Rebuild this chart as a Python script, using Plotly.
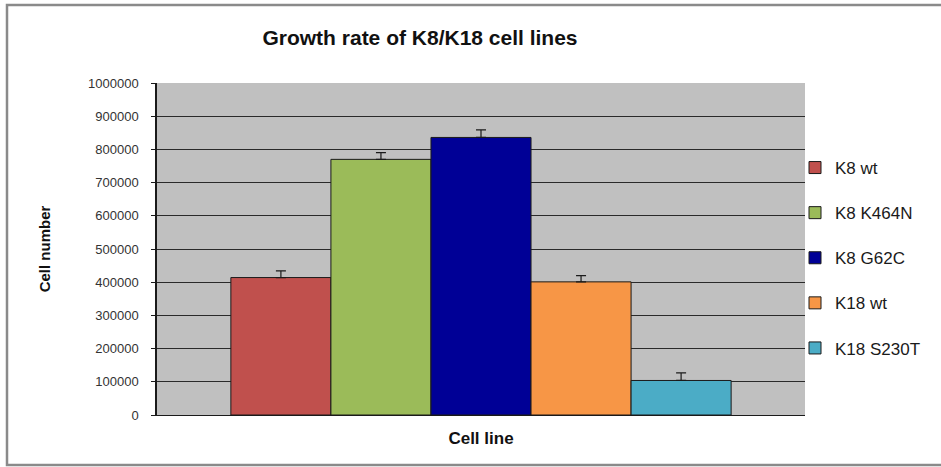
import plotly.graph_objects as go

categories = ["K8 wt", "K8 K464N", "K8 G62C", "K18 wt", "K18 S230T"]
values = [414000, 770000, 836000, 401000, 104000]
errors = [20000, 20000, 23000, 19000, 23000]
colors = ["#C0504D", "#9BBB59", "#000096", "#F79646", "#4BACC6"]
y_ticks = [0, 100000, 200000, 300000, 400000, 500000, 600000, 700000, 800000, 900000, 1000000]

W, H = 941, 467
L, R, T, B = 157, 805, 83, 415

def px(x):
    return (x - L) / (R - L)

def py(y):
    return (B - y) / (B - T)

fig = go.Figure()
for i, (name, v, e, c) in enumerate(zip(categories, values, errors, colors)):
    fig.add_trace(go.Bar(
        x=[0], y=[v], name=name, legendgroup=name,
        marker=dict(color=c, line=dict(color="#1a1a1a", width=1)),
        error_y=dict(type="data", symmetric=False, array=[e], arrayminus=[0],
                     color="#1a1a1a", thickness=1.2, width=5),
    ))

fig.update_layout(
    width=W, height=H,
    margin=dict(l=L, r=W - R, t=T, b=H - B),
    paper_bgcolor="white",
    plot_bgcolor="#C0C0C0",
    barmode="group",
    bargap=0.228,
    bargroupgap=0,
    font=dict(family="Liberation Sans, Arial", color="#1a1a1a"),
    title=dict(text="<b>Growth rate of K8/K18 cell lines</b>", x=420 / W, xanchor="center",
               y=1 - 38 / H, yanchor="middle", font=dict(size=21, color="#111")),
    xaxis=dict(range=[-0.5, 0.5], showticklabels=False, ticks="", showgrid=False,
               zeroline=False, showline=True, linecolor="#1a1a1a", linewidth=1,
               title=dict(text="<b>Cell line</b>", font=dict(size=17, color="#111"), standoff=17)),
    yaxis=dict(range=[0, 1000000], tickvals=y_ticks, ticktext=[str(t) for t in y_ticks],
               ticks="outside", ticklen=4, tickcolor="#1a1a1a", showline=True,
               linecolor="#1a1a1a", linewidth=1.5, showgrid=True, gridcolor="#2a2a2a",
               gridwidth=1, zeroline=False, tickfont=dict(size=13, color="#333"),
               ticklabelstandoff=10,
               title=dict(text="<b>Cell number</b>", font=dict(size=15, color="#111"), standoff=34)),
    legend=dict(x=px(795), xanchor="left", y=py(150), yanchor="top",
                font=dict(size=17, color="#1a1a1a"), tracegroupgap=20,
                bgcolor="rgba(0,0,0,0)", itemwidth=30),
    showlegend=True,
)

fig.add_shape(type="rect", xref="paper", yref="paper",
              x0=px(7), x1=px(950), y0=py(465), y1=py(5),
              line=dict(color="#8a8a8a", width=2.5), fillcolor="rgba(0,0,0,0)", layer="below")

fig.write_html("out.html", config={"displayModeBar": False},
               post_script="document.body.style.margin='0';document.body.style.overflow='hidden';")
